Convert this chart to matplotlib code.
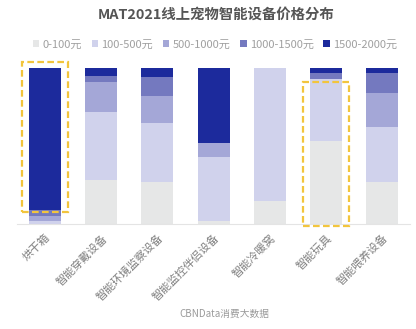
import numpy as np
import matplotlib.pyplot as plt
from matplotlib.patches import Rectangle

plt.rcParams['font.family'] = ['Noto Sans CJK SC', 'DejaVu Sans']

# categories and price bands
categories = ['烘干箱', '智能穿戴设备', '智能环境监察设备', '智能监控伴侣设备',
              '智能冷暖窝', '智能玩具', '智能喂养设备']
bands = ['0-100元', '100-500元', '500-1000元', '1000-1500元', '1500-2000元']

# share of each price band (%)
p_0_100 = [0, 28, 27, 2, 15, 53, 27]
p_100_500 = [2, 44, 38, 41, 85, 40, 35]
p_500_1000 = [3, 19, 17, 9, 0, 0, 22]
p_1000_1500 = [4, 4, 12, 0, 0, 4, 13]
p_1500_2000 = [91, 5, 6, 48, 0, 3, 3]

colors = ['#e6e7e7', '#d0d2ec', '#a4a7d7', '#7479bf', '#1c2a9c']
series = [p_0_100, p_100_500, p_500_1000, p_1000_1500, p_1500_2000]

fig = plt.figure(figsize=(4.16, 3.29), dpi=100)
ax = fig.add_axes([0.041, 0.319, 0.945, 0.474])

x = np.arange(len(categories))
tot = np.sum(np.array(series, dtype=float), axis=0)
bottom = np.zeros(len(categories))
for vals, c, lab in zip(series, colors, bands):
    v = np.array(vals, dtype=float) / tot
    ax.bar(x, v, width=0.57, bottom=bottom, color=c, label=lab, linewidth=0)
    bottom += v

ax.set_xlim(-0.5, len(categories) - 0.5)
ax.set_ylim(0, 1)
ax.set_yticks([])
for s in ['top', 'right', 'left']:
    ax.spines[s].set_visible(False)
ax.spines['bottom'].set_color('#e4e4e4')
ax.spines['bottom'].set_linewidth(0.8)
ax.set_xticks(x)
ax.set_xticklabels(categories, rotation=45, ha='right', rotation_mode='anchor',
                   fontsize=8, color='#808080')
ax.tick_params(axis='x', length=0, pad=6)

# highlight boxes
hl = dict(fill=False, edgecolor='#f2c53d', linewidth=1.6, linestyle=(0, (3, 1.5)),
          clip_on=False, zorder=5)
ax.add_patch(Rectangle((-0.41, 0.08), 0.82, 0.96, **hl))
ax.add_patch(Rectangle((5 - 0.41, -0.01), 0.82, 0.92, **hl))

fig.text(0.52, 0.955, 'MAT2021线上宠物智能设备价格分布', ha='center', va='center',
         fontsize=10.4, fontweight='bold', color='#555555')

leg = ax.legend(loc='center', bbox_to_anchor=(0.517, 0.865), bbox_transform=fig.transFigure,
                ncol=5, frameon=False, fontsize=8, handlelength=0.6, handleheight=0.6,
                handletextpad=0.3, columnspacing=0.85)
for t in leg.get_texts():
    t.set_color('#a0a0a0')

fig.text(0.54, 0.045, 'CBNData消费大数据', ha='center', va='center',
         fontsize=7, color='#999999')

fig.savefig('out.png', dpi=100)
